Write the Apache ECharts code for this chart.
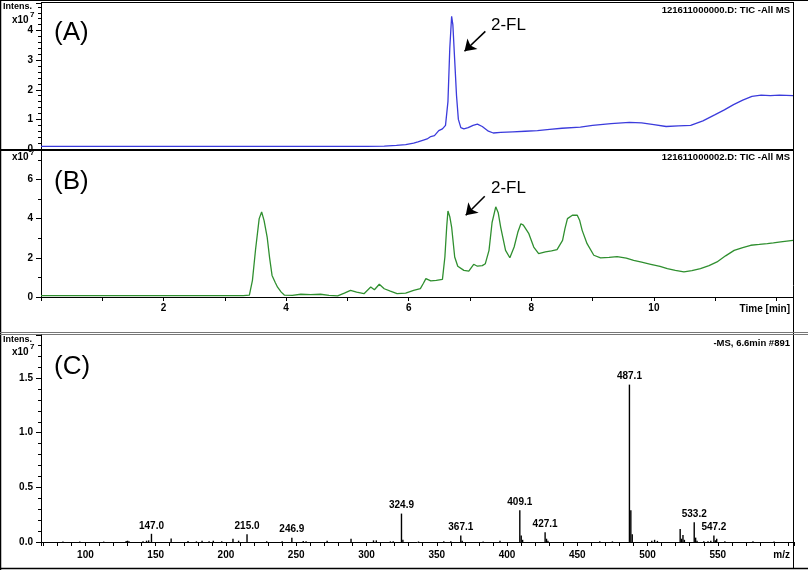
<!DOCTYPE html>
<html><head><meta charset="utf-8">
<script src="https://cdn.jsdelivr.net/npm/echarts@6/dist/echarts.min.js"></script>
<style>html,body{margin:0;padding:0;background:#fff}#c{width:808px;height:570px}</style>
</head><body><div id="c"></div>
<script>
// Panel A (blue TIC)
const timeA = [0,0.5,1,1.5,2,2.5,3,3.5,3.68,3.7,3.72,4,4.5,5,5.28,5.3,5.32,5.6,5.8,5.95,6.08,6.15,6.24,6.3,6.36,6.42,6.49,6.55,6.6,6.64,6.67,6.7,6.72,6.75,6.78,6.81,6.85,6.9,6.97,7.05,7.12,7.2,7.3,7.38,7.5,7.7,7.9,8.1,8.3,8.5,8.8,9.0,9.3,9.6,9.8,10.0,10.2,10.4,10.6,10.8,11.0,11.15,11.3,11.45,11.6,11.75,11.9,12.05,12.27];
const ticA  = [0.09,0.09,0.09,0.09,0.09,0.09,0.09,0.09,0.09,0.04,0.09,0.09,0.09,0.09,0.09,0.05,0.09,0.1,0.12,0.15,0.2,0.24,0.3,0.34,0.42,0.45,0.62,0.68,0.8,1.6,3.4,4.48,4.2,3.0,1.8,1.0,0.72,0.68,0.72,0.8,0.84,0.76,0.6,0.54,0.56,0.58,0.6,0.62,0.66,0.7,0.74,0.8,0.86,0.9,0.88,0.82,0.76,0.78,0.8,0.95,1.16,1.32,1.5,1.65,1.78,1.82,1.8,1.82,1.8];
// Panel B (green TIC)
const timeB = [0,1,2,3,3.3,3.4,3.45,3.5,3.56,3.6,3.64,3.69,3.73,3.77,3.82,3.86,3.92,3.97,4.1,4.24,4.4,4.56,4.7,4.84,4.95,5.05,5.15,5.27,5.38,5.44,5.52,5.6,5.7,5.81,5.95,6.08,6.19,6.24,6.28,6.36,6.45,6.55,6.59,6.62,6.64,6.67,6.7,6.75,6.8,6.9,6.98,7.06,7.12,7.2,7.25,7.31,7.36,7.42,7.46,7.5,7.58,7.65,7.72,7.78,7.83,7.87,7.96,8.04,8.12,8.23,8.33,8.42,8.51,8.55,8.59,8.67,8.75,8.79,8.83,8.91,9.02,9.13,9.27,9.4,9.55,9.67,9.8,9.95,10.1,10.22,10.35,10.49,10.62,10.76,10.9,11.03,11.17,11.31,11.45,11.58,11.72,11.85,11.95,12.07,12.17,12.27];
const ticB  = [0.07,0.07,0.07,0.07,0.07,0.1,0.85,2.4,4.0,4.34,3.9,3.06,2.0,1.1,0.75,0.5,0.25,0.1,0.08,0.14,0.12,0.14,0.08,0.06,0.2,0.34,0.25,0.17,0.51,0.37,0.65,0.42,0.3,0.17,0.2,0.34,0.43,0.7,0.94,0.82,0.85,0.9,2.04,3.6,4.39,4.1,3.57,2.04,1.57,1.36,1.32,1.67,1.57,1.6,1.7,2.38,3.8,4.6,4.3,3.57,2.38,2.0,2.55,3.3,3.74,3.67,3.23,2.55,2.21,2.3,2.35,2.42,2.89,3.5,4.0,4.17,4.17,3.9,3.4,2.72,2.13,2.0,2.02,2.06,1.98,1.87,1.78,1.67,1.56,1.45,1.36,1.28,1.35,1.45,1.6,1.79,2.1,2.38,2.52,2.64,2.68,2.72,2.76,2.81,2.85,2.89];
// Panel C (mass spectrum)
const mzValues = [84,96,113,129,130,131,141,143.5,145,147.0,161.0,173,179,183,188,191,197,205.0,209,215.0,229,240,246.9,255,257,272,289.0,305.0,307.0,317,319,324.9,325.9,337,355,360,367.1,368.1,383,395,409.1,410.1,411.1,427.1,428.1,429.1,466,475,487.1,488.1,489.1,503,505,507,523.2,524.2,525.2,526.2,533.2,534.2,535.2,540,543,545,547.2,548.2,549.2,555,575,590];
const mzIntens = [0.004,0.004,0.004,0.01,0.012,0.008,0.006,0.012,0.015,0.075,0.032,0.01,0.006,0.012,0.008,0.012,0.008,0.03,0.012,0.072,0.006,0.008,0.04,0.01,0.008,0.012,0.03,0.015,0.015,0.006,0.008,0.26,0.02,0.005,0.006,0.006,0.06,0.012,0.005,0.012,0.29,0.06,0.02,0.09,0.03,0.012,0.008,0.006,1.44,0.29,0.07,0.012,0.02,0.01,0.12,0.03,0.065,0.02,0.18,0.04,0.012,0.006,0.008,0.012,0.06,0.015,0.03,0.008,0.006,0.005];
const mzLabeled = [147.0,215.0,246.9,324.9,367.1,409.1,427.1,487.1,533.2,547.2];
const timeTickLabels = [2,4,6,8,10];

const FONT = 'Liberation Sans, Arial, sans-serif';
const chart = echarts.init(document.getElementById('c'), null, {renderer:'canvas'});

function yAx(gi, max, interval, minorSplit, fmt) {
  return {
    type:'value', gridIndex:gi, min:0, max:max, interval:interval,
    axisLine:{show:true, lineStyle:{color:'#000', width:1}},
    axisTick:{show:true, inside:false, length:5, lineStyle:{color:'#000'}},
    minorTick:{show:true, splitNumber:minorSplit, length:3, lineStyle:{color:'#000'}},
    splitLine:{show:false}, minorSplitLine:{show:false},
    axisLabel:{show:true, margin:8, color:'#000', fontFamily:FONT, fontWeight:'bold', fontSize:10,
      showMaxLabel:false, formatter:fmt}
  };
}

const tA = timeA.map((t,i)=>[t, ticA[i]]);
const tB = timeB.map((t,i)=>[t, ticB[i]]);
const ms = mzValues.map((m,i)=>{
  const lab = mzLabeled.some(v=>Math.abs(v-m)<0.01);
  const item = {value:[m, mzIntens[i]]};
  if (lab) item.label = {show:true, formatter: m.toFixed(1)};
  return item;
});

const option = {
  animation:false,
  backgroundColor:'#fff',
  grid:[
    {left:41, top:3, width:752, height:146, outerBoundsMode:'none', containLabel:false},
    {left:41, top:150, width:752, height:147, outerBoundsMode:'none', containLabel:false},
    {left:41, top:335, width:753, height:207, outerBoundsMode:'none', containLabel:false}
  ],
  xAxis:[
    {type:'value', gridIndex:0, min:0, max:12.27, interval:2,
      axisLine:{show:false}, axisTick:{show:false}, axisLabel:{show:false}, splitLine:{show:false}},
    {type:'value', gridIndex:1, min:0, max:12.27, interval:2,
      axisLine:{show:true, lineStyle:{color:'#000'}},
      axisTick:{show:true, length:4, lineStyle:{color:'#000'}},
      minorTick:{show:true, splitNumber:2, length:4, lineStyle:{color:'#000'}},
      splitLine:{show:false},
      axisLabel:{show:true, margin:6, color:'#000', fontFamily:FONT, fontWeight:'bold', fontSize:10,
        showMinLabel:false, showMaxLabel:false,
        formatter:v=> timeTickLabels.indexOf(Math.round(v))>=0 && Math.abs(v-Math.round(v))<1e-6 ? String(Math.round(v)) : ''}},
    {type:'value', gridIndex:2, min:68.4, max:604.2, splitNumber:10,
      axisLine:{show:true, lineStyle:{color:'#000'}},
      axisTick:{show:true, length:4, lineStyle:{color:'#000'}},
      minorTick:{show:true, splitNumber:5, length:4, lineStyle:{color:'#000'}},
      splitLine:{show:false},
      axisLabel:{show:true, margin:8, color:'#000', fontFamily:FONT, fontWeight:'bold', fontSize:10,
        showMinLabel:false, showMaxLabel:false, formatter:v=> (v>=100 && v<=550) ? String(v) : ''}}
  ],
  yAxis:[
    yAx(0, 4.93, 1, 5, v=>String(v)),
    yAx(1, 7.5, 2, 2, v=>String(v)),
    yAx(2, 1.894, 0.5, 5, v=>v.toFixed(1))
  ],
  series:[
    {type:'line', xAxisIndex:0, yAxisIndex:0, data:tA, showSymbol:false, symbol:'none',
      lineStyle:{color:'#3b3bdc', width:1.3}, z:3,
      markLine:{silent:true, symbol:['none','arrow'], symbolSize:11, animation:false,
        lineStyle:{color:'#000', width:1.6, type:'solid'}, label:{show:false},
        data:[[{coord:[7.25,3.97]},{coord:[6.91,3.3]}]]}},
    {type:'line', xAxisIndex:1, yAxisIndex:1, data:tB, showSymbol:false, symbol:'none',
      lineStyle:{color:'#2f8f2f', width:1.3}, z:3,
      markLine:{silent:true, symbol:['none','arrow'], symbolSize:11, animation:false,
        lineStyle:{color:'#000', width:1.6, type:'solid'}, label:{show:false},
        data:[[{coord:[7.24,5.14]},{coord:[6.93,4.17]}]]}},
    {type:'bar', xAxisIndex:2, yAxisIndex:2, data:ms, barWidth:1.4, barGap:'-100%',
      itemStyle:{color:'#000'},
      label:{show:false, position:'top', distance:3, color:'#000', fontFamily:FONT, fontWeight:'bold', fontSize:10}}
  ],
  graphic:[
    // frame lines
    {type:'line', shape:{x1:0.5,y1:0,x2:0.5,y2:570}, style:{stroke:'#000', lineWidth:1.5}},
    {type:'line', shape:{x1:0,y1:568.5,x2:808,y2:568.5}, style:{stroke:'#000', lineWidth:1.5}},
    {type:'line', shape:{x1:0,y1:0.5,x2:808,y2:0.5}, style:{stroke:'#000', lineWidth:1}},
    {type:'line', shape:{x1:41,y1:2.5,x2:793,y2:2.5}, style:{stroke:'#000', lineWidth:1}},
    {type:'line', shape:{x1:793.5,y1:2,x2:793.5,y2:569}, style:{stroke:'#000', lineWidth:1}},
    {type:'line', shape:{x1:0,y1:150,x2:794,y2:150}, style:{stroke:'#000', lineWidth:2}},
    {type:'line', shape:{x1:0,y1:332.5,x2:808,y2:332.5}, style:{stroke:'#777', lineWidth:1}},
    {type:'line', shape:{x1:0,y1:334.5,x2:808,y2:334.5}, style:{stroke:'#777', lineWidth:1}},
    // Panel A texts
    {type:'text', x:3, y:7, style:{text:'Intens.', fill:'#000', font:'bold 9px '+FONT, textVerticalAlign:'middle'}},
    {type:'text', x:12, y:20, style:{text:'x10', fill:'#000', font:'bold 10px '+FONT, textVerticalAlign:'middle'}},
    {type:'text', x:30, y:15, style:{text:'7', fill:'#000', font:'bold 8px '+FONT, textVerticalAlign:'middle'}},
    {type:'text', x:54, y:33, style:{text:'(A)', fill:'#000', font:'26px '+FONT, textVerticalAlign:'middle'}},
    {type:'text', x:790, y:10, style:{text:'121611000000.D: TIC -All MS', fill:'#000', font:'bold 9.5px '+FONT, textAlign:'right', textVerticalAlign:'middle'}},
    {type:'text', x:491, y:25, style:{text:'2-FL', fill:'#000', font:'17px '+FONT, textVerticalAlign:'middle'}},
    // Panel B texts
    {type:'text', x:12, y:157, style:{text:'x10', fill:'#000', font:'bold 10px '+FONT, textVerticalAlign:'middle'}},
    {type:'text', x:30, y:153, style:{text:'7', fill:'#000', font:'bold 8px '+FONT, textVerticalAlign:'middle'}},
    {type:'text', x:54, y:182, style:{text:'(B)', fill:'#000', font:'26px '+FONT, textVerticalAlign:'middle'}},
    {type:'text', x:790, y:157, style:{text:'121611000002.D: TIC -All MS', fill:'#000', font:'bold 9.5px '+FONT, textAlign:'right', textVerticalAlign:'middle'}},
    {type:'text', x:491, y:188, style:{text:'2-FL', fill:'#000', font:'17px '+FONT, textVerticalAlign:'middle'}},
    {type:'text', x:790, y:309, style:{text:'Time [min]', fill:'#000', font:'bold 10px '+FONT, textAlign:'right', textVerticalAlign:'middle'}},
    // Panel C texts
    {type:'text', x:3, y:340, style:{text:'Intens.', fill:'#000', font:'bold 9px '+FONT, textVerticalAlign:'middle'}},
    {type:'text', x:12, y:352, style:{text:'x10', fill:'#000', font:'bold 10px '+FONT, textVerticalAlign:'middle'}},
    {type:'text', x:30, y:347, style:{text:'7', fill:'#000', font:'bold 8px '+FONT, textVerticalAlign:'middle'}},
    {type:'text', x:54, y:367, style:{text:'(C)', fill:'#000', font:'26px '+FONT, textVerticalAlign:'middle'}},
    {type:'text', x:790, y:343, style:{text:'-MS, 6.6min #891', fill:'#000', font:'bold 9.5px '+FONT, textAlign:'right', textVerticalAlign:'middle'}},
    {type:'text', x:790, y:555, style:{text:'m/z', fill:'#000', font:'bold 10px '+FONT, textAlign:'right', textVerticalAlign:'middle'}}
  ]
};
chart.setOption(option);
</script></body></html>
